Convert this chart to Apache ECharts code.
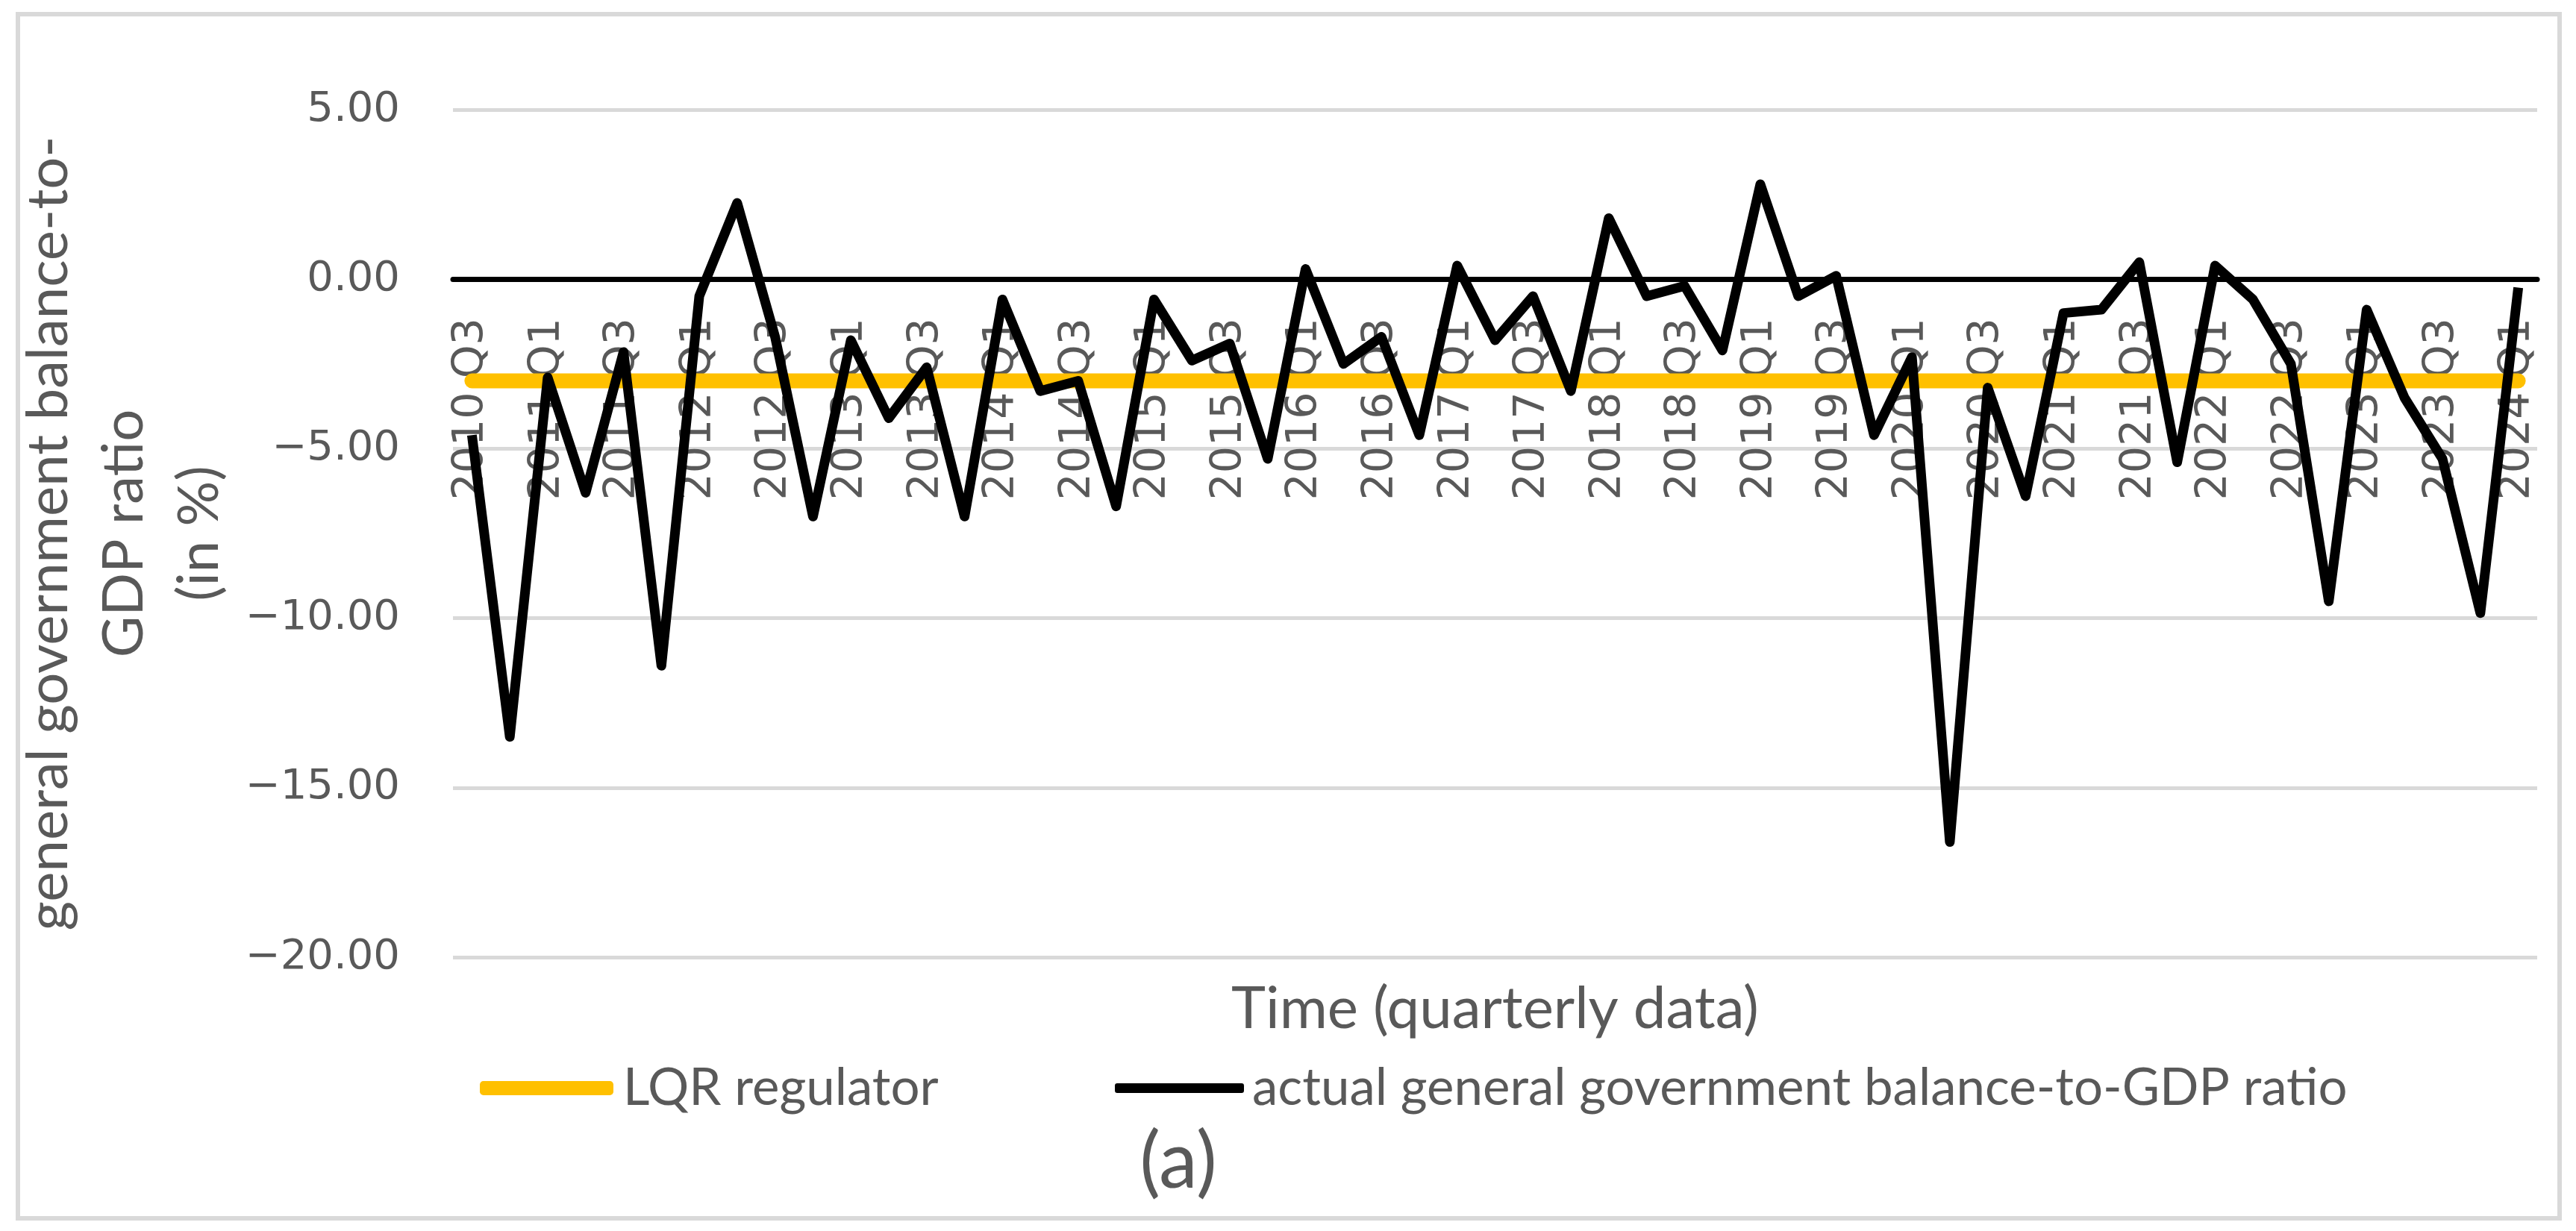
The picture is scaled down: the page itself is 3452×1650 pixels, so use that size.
<!DOCTYPE html>
<html>
<head>
<meta charset="utf-8">
<script src="https://cdn.jsdelivr.net/npm/echarts@6/dist/echarts.min.js"></script>
<style>
html,body{margin:0;padding:0;background:#fff;}
#chart{width:3452px;height:1650px;}
</style>
</head>
<body>
<div id="chart"></div>
<script>
var categories = [
  "2010 Q3","2010 Q4",
  "2011 Q1","2011 Q2","2011 Q3","2011 Q4",
  "2012 Q1","2012 Q2","2012 Q3","2012 Q4",
  "2013 Q1","2013 Q2","2013 Q3","2013 Q4",
  "2014 Q1","2014 Q2","2014 Q3","2014 Q4",
  "2015 Q1","2015 Q2","2015 Q3","2015 Q4",
  "2016 Q1","2016 Q2","2016 Q3","2016 Q4",
  "2017 Q1","2017 Q2","2017 Q3","2017 Q4",
  "2018 Q1","2018 Q2","2018 Q3","2018 Q4",
  "2019 Q1","2019 Q2","2019 Q3","2019 Q4",
  "2020 Q1","2020 Q2","2020 Q3","2020 Q4",
  "2021 Q1","2021 Q2","2021 Q3","2021 Q4",
  "2022 Q1","2022 Q2","2022 Q3","2022 Q4",
  "2023 Q1","2023 Q2","2023 Q3","2023 Q4",
  "2024 Q1"
];

var actualBalance = [
  -4.6, -13.5,
  -2.9, -6.3, -2.15, -11.4,
  -0.5, 2.25, -1.7, -7.0,
  -1.8, -4.1, -2.6, -7.0,
  -0.6, -3.3, -3.0, -6.7,
  -0.6, -2.4, -1.9, -5.3,
  0.3, -2.5, -1.7, -4.6,
  0.4, -1.8, -0.5, -3.3,
  1.8, -0.5, -0.2, -2.1,
  2.8, -0.5, 0.1, -4.6,
  -2.3, -16.6, -3.2, -6.4,
  -1.0, -0.9, 0.5, -5.4,
  0.4, -0.6, -2.5, -9.5,
  -0.9, -3.5, -5.3, -9.85,
  -0.25
];

var lqrRegulator = [
  -3.0, -3.0,
  -3.0, -3.0, -3.0, -3.0,
  -3.0, -3.0, -3.0, -3.0,
  -3.0, -3.0, -3.0, -3.0,
  -3.0, -3.0, -3.0, -3.0,
  -3.0, -3.0, -3.0, -3.0,
  -3.0, -3.0, -3.0, -3.0,
  -3.0, -3.0, -3.0, -3.0,
  -3.0, -3.0, -3.0, -3.0,
  -3.0, -3.0, -3.0, -3.0,
  -3.0, -3.0, -3.0, -3.0,
  -3.0, -3.0, -3.0, -3.0,
  -3.0, -3.0, -3.0, -3.0,
  -3.0, -3.0, -3.0, -3.0,
  -3.0
];

var yMin = -20, yMax = 5, yStep = 5;

var textColor = '#595959';
var titleFont = 'Lato';
var tickFont = 'DejaVu Sans';

var gridTop = 147, gridBottom = 367, chartH = 1650;
var plotH = chartH - gridTop - gridBottom;
// distance from plot bottom (yMin) up to the zero line, in px
var zeroLift = plotH * (0 - yMin) / (yMax - yMin);

var chart = echarts.init(document.getElementById('chart'), null, {renderer: 'canvas'});

var option = {
  animation: false,
  backgroundColor: '#ffffff',
  grid: {left: 607, right: 52, top: gridTop, bottom: gridBottom, containLabel: false, outerBoundsMode: 'none'},
  xAxis: {
    type: 'category',
    data: categories,
    boundaryGap: true,
    position: 'bottom',
    offset: -zeroLift,
    name: 'Time (quarterly data)',
    nameLocation: 'middle',
    nameGap: 940,
    nameTextStyle: {fontFamily: titleFont, fontSize: 78, color: textColor},
    axisLine: {show: true, onZero: false, lineStyle: {color: '#000000', width: 7}},
    axisTick: {show: false},
    axisLabel: {
      interval: 1,
      rotate: 90,
      margin: 52,
      fontFamily: tickFont,
      fontSize: 57,
      color: textColor
    },
    splitLine: {show: false}
  },
  yAxis: {
    type: 'value',
    min: yMin,
    max: yMax,
    interval: yStep,
    name: 'general government balance-to-\nGDP ratio\n(in %)',
    nameLocation: 'middle',
    nameGap: 250,
    nameTextStyle: {fontFamily: titleFont, fontSize: 76, color: textColor, lineHeight: 101, align: 'center'},
    axisLine: {show: false},
    axisTick: {show: false},
    axisLabel: {
      margin: 71,
      fontFamily: tickFont,
      fontSize: 56,
      color: textColor,
      formatter: function (v) {
        return (v < 0 ? '\u2212' : '') + Math.abs(v).toFixed(2);
      }
    },
    splitLine: {show: true, lineStyle: {color: '#D9D9D9', width: 5}}
  },
  legend: [
    {
      data: [{name: 'LQR regulator', icon: 'roundRect', itemStyle: {color: '#FFC000', borderWidth: 0}}],
      left: 643, top: 1424,
      padding: 0,
      itemWidth: 179, itemHeight: 19,
      selectedMode: false,
      textStyle: {fontFamily: titleFont, fontSize: 69, color: textColor, padding: [0, 0, 0, 8]}
    },
    {
      data: [{name: 'actual general government balance-to-GDP ratio', icon: 'roundRect', itemStyle: {color: '#000000', borderWidth: 0}}],
      left: 1494, top: 1424,
      padding: 0,
      itemWidth: 173, itemHeight: 13,
      selectedMode: false,
      textStyle: {fontFamily: titleFont, fontSize: 69, color: textColor, padding: [0, 0, 0, 6]}
    }
  ],
  series: [
    {
      name: 'LQR regulator',
      type: 'line',
      data: lqrRegulator,
      symbol: 'none',
      z: 2,
      itemStyle: {color: '#FFC000'},
      lineStyle: {color: '#FFC000', width: 20, cap: 'round', join: 'round'}
    },
    {
      name: 'actual general government balance-to-GDP ratio',
      type: 'line',
      data: actualBalance,
      symbol: 'none',
      z: 3,
      itemStyle: {color: '#000000'},
      lineStyle: {color: '#000000', width: 13, join: 'round'}
    }
  ],
  graphic: [
    {
      type: 'rect',
      silent: true,
      z: -1,
      shape: {x: 24, y: 19, width: 3406, height: 1614},
      style: {fill: 'none', stroke: '#D9D9D9', lineWidth: 6}
    },
    {
      type: 'text',
      silent: true,
      x: 1579, y: 1558,
      style: {
        text: '(a)',
        font: '104px Lato',
        fill: textColor,
        textAlign: 'center',
        textVerticalAlign: 'middle'
      }
    }
  ]
};

chart.setOption(option);
</script>
</body>
</html>
